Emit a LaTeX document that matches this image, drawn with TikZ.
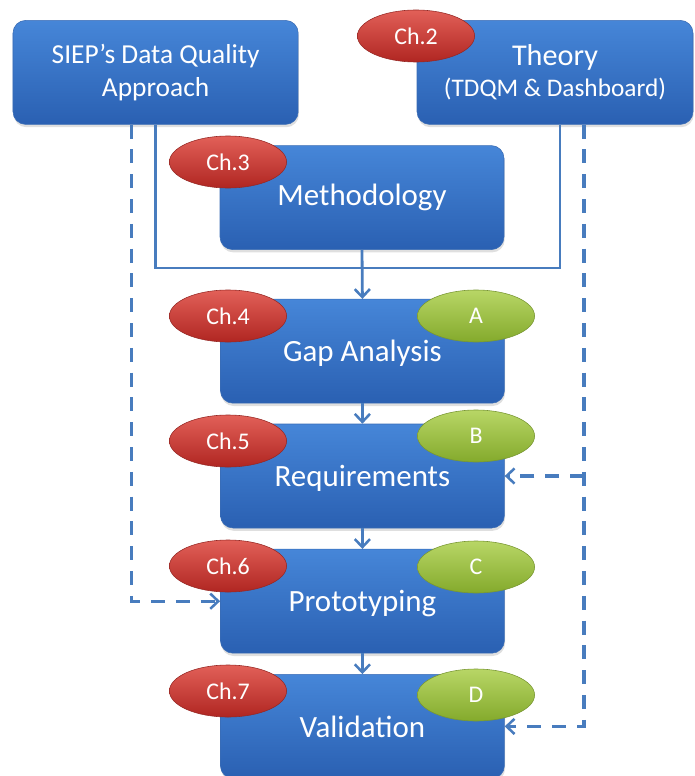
\documentclass[tikz,border=0pt]{standalone}
\usepackage{fontspec}
\setmainfont{Carlito}
\usetikzlibrary{arrows.meta,shapes.geometric,shadows}

\definecolor{boxtop}{RGB}{70,134,216}
\definecolor{boxbot}{RGB}{42,96,178}
\definecolor{boxedge}{RGB}{58,108,180}
\definecolor{chtop}{RGB}{226,96,88}
\definecolor{chbot}{RGB}{176,38,34}
\definecolor{chedge}{RGB}{150,40,36}
\definecolor{lettop}{RGB}{184,214,102}
\definecolor{letbot}{RGB}{132,170,44}
\definecolor{letedge}{RGB}{120,150,50}
\definecolor{flowline}{RGB}{72,124,190}

\begin{document}
\begin{tikzpicture}[
    stage/.style={rectangle, draw=boxedge, thin, rounded corners=9pt,
                  top color=boxtop, bottom color=boxbot,
                  minimum width=7.1cm, minimum height=2.6cm,
                  text=white, align=center,
                  drop shadow={opacity=0.25, shadow xshift=0.5pt, shadow yshift=-2pt}},
    step box/.style={stage, text depth=0pt, font=\fontsize{22}{26}\selectfont},
    chap/.style={ellipse, draw=chedge, thin, inner sep=0pt,
                 top color=chtop, bottom color=chbot,
                 minimum width=2.93cm, minimum height=1.3cm,
                 text=white, font=\fontsize{17}{19}\selectfont},
    part/.style={ellipse, draw=letedge, thin, inner sep=0pt,
                 top color=lettop, bottom color=letbot,
                 minimum width=2.93cm, minimum height=1.3cm,
                 text=white, font=\fontsize{17}{19}\selectfont},
    line/.style={draw=flowline, line width=2pt},
    arr/.style={line, -{Straight Barb[length=2mm,width=3.8mm,line width=1.8pt]}},
    dasharr/.style={draw=flowline, line width=2.4pt, dash pattern=on 0.35cm off 0.27cm,
                    -{Straight Barb[length=2mm,width=3.8mm,line width=1.8pt]}}
  ]
    \useasboundingbox (0,0) rectangle (17.35,-19.4);

    % sources on top
    \node[stage, minimum width=7.13cm, font=\fontsize{19.5}{23}\selectfont] (siep) at (3.89,-1.81)
        {SIEP’s Data Quality\\Approach};
    \node[stage, minimum width=6.9cm] (theory) at (13.875,-1.81)
        {\fontsize{21.5}{23}\selectfont Theory\\[4pt]\fontsize{18}{23}\selectfont (TDQM \& Dashboard)};
    \node[stage, font=\fontsize{22}{26}\selectfont] (method) at (9.05,-4.94) {Methodology};

    % main chain
    \node[step box] (gap)   at (9.06,-8.78)  {Gap Analysis};
    \node[step box] (req)   at (9.06,-11.9)  {Requirements};
    \node[step box] (proto) at (9.06,-15.03) {Prototyping};
    \node[step box] (valid) at (9.06,-18.16) {Validation};

    % chapter tags
    \node[chap] (ch2) at (10.4,-0.9)    {Ch.2};
    \node[chap] (ch3) at (5.7,-4.05)    {Ch.3};
    \node[chap] (ch4) at (5.7,-7.9)     {Ch.4};
    \node[chap] (ch5) at (5.7,-11.025)  {Ch.5};
    \node[chap] (ch6) at (5.7,-14.15)   {Ch.6};
    \node[chap] (ch7) at (5.7,-17.275)  {Ch.7};

    % part tags
    \node[part] (pa) at (11.9,-7.9)    {A};
    \node[part] (pb) at (11.9,-10.9)   {B};
    \node[part] (pc) at (11.9,-14.175) {C};
    \node[part] (pd) at (11.9,-17.375) {D};

    % solid merge into the chain
    \coordinate (merge) at (9.05,-6.7);
    \draw[line] (siep.south) |- (merge);
    \draw[line] ([xshift=0.125cm]theory.south) |- (merge);
    \draw[arr] (method.south) -- (gap.north);
    \draw[arr] (gap.south) -- (req.north);
    \draw[arr] (req.south) -- (proto.north);
    \draw[arr] (proto.south) -- (valid.north);

    % dashed feeds
    \coordinate (tap) at ([xshift=0.725cm]theory.south);
    \draw[dasharr] ([xshift=-0.6cm]siep.south) |- (proto.west);
    \draw[dasharr] (tap) |- (valid.east);
    \draw[dasharr] (tap |- req.east) -- (req.east);
  \end{tikzpicture}
\end{document}
